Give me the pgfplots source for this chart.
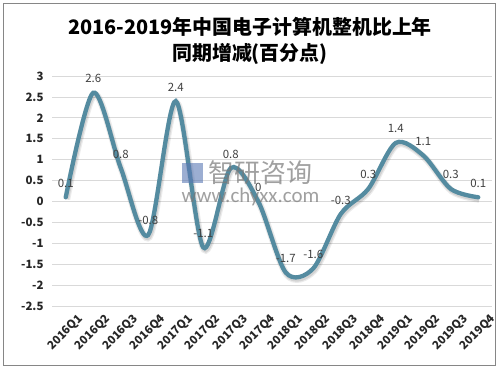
\documentclass[border=0pt]{standalone}
\usepackage{pgfplots}
\pgfplotsset{compat=1.18}
\usepackage{fontspec}
\setmainfont{Carlito}
\newfontfamily\cjk{Noto Sans CJK SC}
\definecolor{linec}{RGB}{84,139,160}
\definecolor{gridc}{RGB}{217,217,217}
\definecolor{labc}{RGB}{64,64,64}
\definecolor{tickc}{RGB}{38,38,38}
\definecolor{wmc}{RGB}{120,120,120}
\definecolor{logoc}{RGB}{90,120,180}
\begin{document}
\begin{tikzpicture}
\begin{scope}[x=1bp,y=1bp]
\fill[white] (-52,-63) rectangle (448,306);
\draw[color={rgb,255:red,134;green,134;blue,134}, line width=1bp] (-48.5,-59.5) rectangle (443,302);
\end{scope}
\begin{axis}[at={(0,0)}, anchor=south west, scale only axis,
  width=440bp, height=230bp,
  xmin=-0.5, xmax=15.5, ymin=-2.5, ymax=3,
  ytick={-2.5,-2,-1.5,-1,-0.5,0,0.5,1,1.5,2,2.5,3},
  yticklabels={-2.5,-2,-1.5,-1,-0.5,0,0.5,1,1.5,2,2.5,3},
  xtick={0,...,15},
  xticklabels={2016Q1,2016Q2,2016Q3,2016Q4,2017Q1,2017Q2,2017Q3,2017Q4,2018Q1,2018Q2,2018Q3,2018Q4,2019Q1,2019Q2,2019Q3,2019Q4},
  ymajorgrids, grid style={gridc, line width=0.8bp},
  axis line style={draw=none}, major tick style={draw=none},
  yticklabel style={font=\cjk\bfseries\fontsize{11.5}{12}\selectfont, text=tickc, xshift=-5bp},
  xticklabel style={font=\cjk\bfseries\fontsize{11.5}{12}\selectfont, text=tickc, rotate=45, anchor=north east, inner sep=0pt, xshift=3bp, yshift=-13bp},
  clip=false,
  nodes near coords, point meta=explicit symbolic,
  every node near coord/.append style={font=\cjk\fontsize{11.5}{12}\selectfont, text=labc, anchor=base, yshift=10bp},
]
\addplot[draw=black, opacity=0.08, line width=7bp, smooth, xshift=1bp, yshift=-2bp, nodes near coords={}] coordinates {
(0,0.1) (1,2.6) (2,0.8) (3,-0.8) (4,2.4) (5,-1.1) (6,0.8) (7,0) (8,-1.7) (9,-1.6) (10,-0.3) (11,0.3) (12,1.4) (13,1.1) (14,0.3) (15,0.1)};
\addplot[draw=black, opacity=0.1, line width=4.5bp, smooth, xshift=1bp, yshift=-2bp, nodes near coords={}] coordinates {
(0,0.1) (1,2.6) (2,0.8) (3,-0.8) (4,2.4) (5,-1.1) (6,0.8) (7,0) (8,-1.7) (9,-1.6) (10,-0.3) (11,0.3) (12,1.4) (13,1.1) (14,0.3) (15,0.1)};
\addplot[draw=linec, line width=4.3bp, smooth, line cap=round] coordinates {
(0,0.1) [0.1] (1,2.6) [2.6] (2,0.8) [0.8] (3,-0.8) [-0.8] (4,2.4) [2.4] (5,-1.1) [-1.1] (6,0.8) [0.8] (7,0) [0] (8,-1.7) [-1.7] (9,-1.6) [-1.6] (10,-0.3) [-0.3] (11,0.3) [0.3] (12,1.4) [1.4] (13,1.1) [1.1] (14,0.3) [0.3] (15,0.1) [0.1]};
\end{axis}
\begin{scope}[x=1bp,y=1bp]
\node[font=\cjk\bfseries\fontsize{20}{26}\selectfont, align=center] at (198,265) {2016-2019年中国电子计算机整机比上年\\同期增减(百分点)};
\fill[logoc, opacity=0.6] (130,123) rectangle (151,143);
\node[font=\cjk\fontsize{26}{28}\selectfont, text=wmc, opacity=0.7, anchor=west] at (153,133) {智研咨询};
\node[font=\fontsize{21}{24}\selectfont, text=wmc, opacity=0.7, anchor=west] at (126,109) {www.chyxx.com};
\end{scope}
\end{tikzpicture}
\end{document}
